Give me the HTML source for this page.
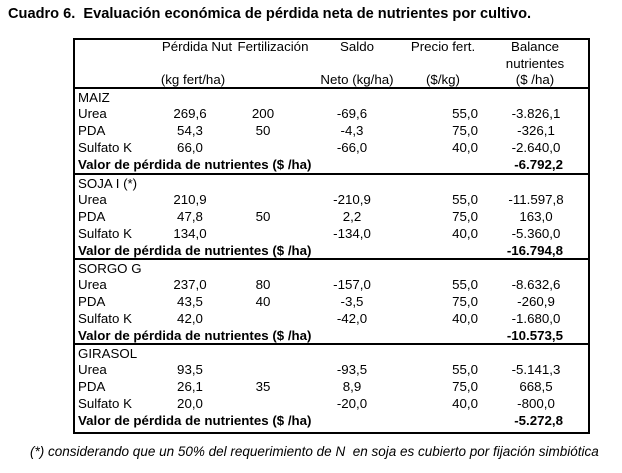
<!DOCTYPE html>
<html><head><meta charset="utf-8"><style>
body{margin:0;width:622px;height:473px;background:#fff;position:relative;font-family:"Liberation Sans",Arial,sans-serif;color:#000;overflow:hidden}
.t{position:absolute;font-size:13.3px;line-height:16px;white-space:nowrap}
.c{transform:translateX(-50%)}
.r{transform:translateX(-100%)}
.b{font-weight:bold}
.box{position:absolute;left:73px;top:38px;width:513px;height:392px;border:2px solid #000}
.hl{position:absolute;left:73px;width:517px;height:2px;background:#000}
</style></head><body>
<div class="t b" style="left:8px;top:6px;font-size:14.6px">Cuadro 6.&nbsp; Evaluación económica de pérdida neta de nutrientes por cultivo.</div>
<div class="box"></div>
<div class="hl" style="top:87px"></div>
<div class="hl" style="top:173px"></div>
<div class="hl" style="top:258px"></div>
<div class="hl" style="top:343px"></div>
<div class="t c" style="left:197px;top:39px">Pérdida Nut</div>
<div class="t c" style="left:273px;top:39px">Fertilización</div>
<div class="t c" style="left:357px;top:39px">Saldo</div>
<div class="t c" style="left:443px;top:39px">Precio fert.</div>
<div class="t c" style="left:535px;top:39px">Balance</div>
<div class="t c" style="left:535px;top:56px">nutrientes</div>
<div class="t c" style="left:193px;top:72px">(kg fert/ha)</div>
<div class="t c" style="left:357px;top:72px">Neto (kg/ha)</div>
<div class="t c" style="left:443px;top:72px">($/kg)</div>
<div class="t c" style="left:535px;top:72px">($ /ha)</div>
<div id="d"></div>
<div class="t" style="left:30px;top:444px;font-style:italic;font-size:13.5px">(*) considerando que un 50% del requerimiento de N&nbsp; en soja es cubierto por fijación simbiótica</div>
<script>
var S=[[88,"MAIZ",[["Urea","269,6","200","-69,6","55,0","-3.826,1"],["PDA","54,3","50","-4,3","75,0","-326,1"],["Sulfato K","66,0","","-66,0","40,0","-2.640,0"]],"-6.792,2"],
[174,"SOJA I (*)",[["Urea","210,9","","-210,9","55,0","-11.597,8"],["PDA","47,8","50","2,2","75,0","163,0"],["Sulfato K","134,0","","-134,0","40,0","-5.360,0"]],"-16.794,8"],
[259,"SORGO G",[["Urea","237,0","80","-157,0","55,0","-8.632,6"],["PDA","43,5","40","-3,5","75,0","-260,9"],["Sulfato K","42,0","","-42,0","40,0","-1.680,0"]],"-10.573,5"],
[344,"GIRASOL",[["Urea","93,5","","-93,5","55,0","-5.141,3"],["PDA","26,1","35","8,9","75,0","668,5"],["Sulfato K","20,0","","-20,0","40,0","-800,0"]],"-5.272,8"]];
var h="";function t(x,y,s,c){h+='<div class="t '+c+'" style="left:'+x+'px;top:'+y+'px">'+s+'</div>';}
S.forEach(function(s){var y=s[0]+2;t(78,y,s[1],"");
s[2].forEach(function(r,i){var yy=y+17*(i+1)-1;t(78,yy,r[0],"");t(190,yy,r[1],"c");t(263,yy,r[2],"c");t(352,yy,r[3],"c");t(478,yy,r[4],"r");t(536,yy,r[5],"c");});
t(78,y+67,"Valor de pérdida de nutrientes ($ /ha)","b");t(563,y+67,s[3],"b r");});
document.getElementById("d").innerHTML=h;
</script>
</body></html>
